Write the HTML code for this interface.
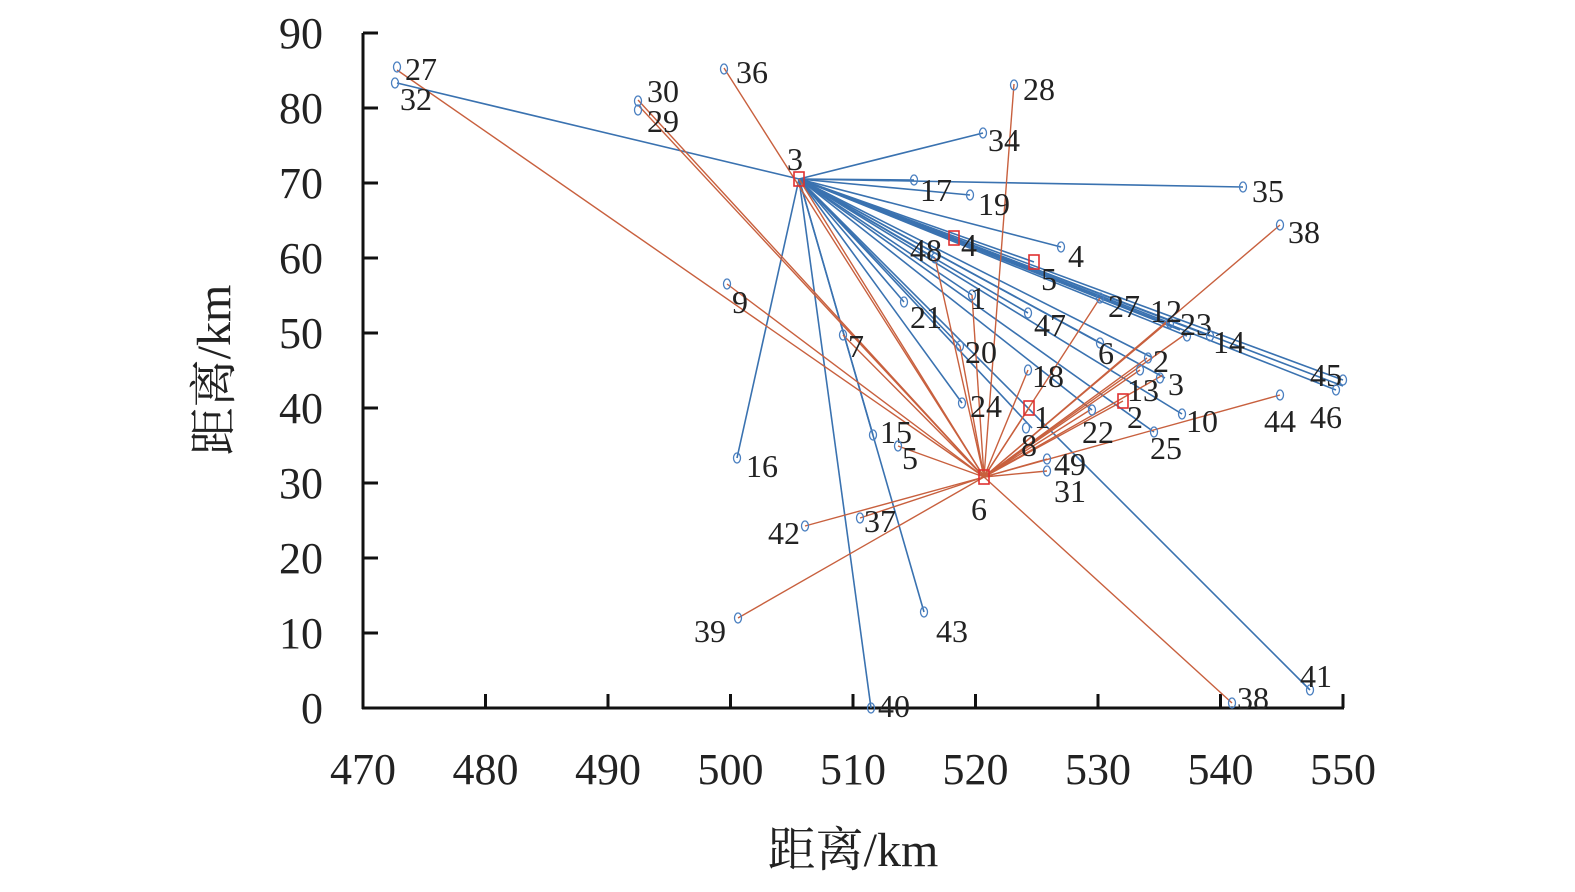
<!DOCTYPE html><html><head><meta charset="utf-8"><style>body{margin:0;background:#fff}svg{display:block}text{font-family:"Liberation Serif","Noto Serif CJK SC",serif;fill:#222}</style></head><body>
<svg id="s" width="1575" height="892" xmlns="http://www.w3.org/2000/svg">
<g stroke="#111" stroke-width="3" fill="none">
<line x1="363" y1="33" x2="363" y2="709"/><line x1="362" y1="708" x2="1344" y2="708"/>
</g>
<g id="ax" font-size="44"></g>
<g id="ln"></g>
<g id="pt"></g>
<text x="853" y="866" font-size="48" text-anchor="middle" style="fill:#222">距离/km</text>
<text transform="translate(230,370) rotate(-90)" font-size="48" text-anchor="middle" style="fill:#222">距离/km</text>
</svg>
<script>
const NS="http://www.w3.org/2000/svg";
function el(p,t,a,txt){const e=document.createElementNS(NS,t);for(const k in a)e.setAttribute(k,a[k]);if(txt!==undefined)e.textContent=txt;document.getElementById(p).appendChild(e);return e;}
for(let i=0;i<=9;i++){const y=708-i*75;el('ax','text',{x:323,y:y+15,'text-anchor':'end'},i*10);if(i>0)el('ax','line',{x1:363,y1:y,x2:378,y2:y,stroke:'#111','stroke-width':3});}
for(let i=0;i<=8;i++){const x=363+i*122.5;el('ax','text',{x:x,y:784,'text-anchor':'middle'},470+i*10);if(i>0)el('ax','line',{x1:x,y1:708,x2:x,y2:694,stroke:'#111','stroke-width':3});}
const H3=[799,179],H6=[984,477];
const blue=[[397,83],[983,133],[1243,187],[914,180],[970,195],[1061,247],[935,258],[904,302],[972,295],[1028,313],[1100,343],[1170,323],[1187,336],[1210,336],[1343,380],[1336,390],[1153,358],[1165,378],[1182,414],[1154,432],[962,403],[960,346],[1092,410],[737,458],[871,708],[924,612],[1310,690],[1032,428],[873,435],[1034,262],[954,238],[1180,330],[1343,386]];
const red=[[397,70],[638,105],[724,68],[1014,84],[727,284],[843,335],[898,446],[805,526],[860,518],[738,618],[1232,703],[1280,225],[1280,395],[1047,459],[1047,471],[1028,370],[1100,298],[1170,320],[1187,333],[1147,358],[1140,370],[1163,375],[1029,408],[1123,401],[960,346],[935,258],[972,295],[799,179],[638,100],[1090,410]];
blue.forEach(p=>el('ln','line',{x1:H3[0],y1:H3[1],x2:p[0],y2:p[1],stroke:'#3a72b0','stroke-width':1.6}));
red.forEach(p=>el('ln','line',{x1:H6[0],y1:H6[1],x2:p[0],y2:p[1],stroke:'#c8603e','stroke-width':1.4}));
const pts=[[397,67,'27',405,68],[395,83,'32',400,98],[638,101,'30',647,90],[638,110,'29',647,120],[724,69,'36',736,71],[1014,85,'28',1023,88],[983,133,'34',988,139],[914,180,'17',920,189],[970,195,'19',978,203],[1243,187,'35',1252,190],[1280,225,'38',1288,231],[1061,247,'4',1068,255],[935,258,'48',910,249],[727,284,'9',732,301],[972,295,'1',970,297],[904,302,'21',910,316],[1028,313,'47',1034,324],[1100,298,'27',1108,305],[1170,323,'12',1150,310],[1187,336,'23',1180,323],[1210,336,'14',1213,341],[843,335,'7',848,345],[960,346,'20',965,351],[1100,343,'6',1098,352],[1148,358,'2',1153,360],[1140,370,'13',1127,389],[1160,378,'3',1168,383],[1028,370,'18',1032,375],[1343,380,'45',1310,374],[1336,390,'46',1310,416],[1280,395,'44',1264,420],[962,403,'24',970,405],[1182,414,'10',1186,420],[1092,410,'22',1082,431],[1154,432,'25',1150,447],[1026,428,'8',1021,444],[873,435,'15',880,431],[737,458,'16',746,465],[898,446,'5',902,457],[1047,459,'49',1054,463],[1047,471,'31',1054,490],[805,526,'42',768,532],[860,518,'37',864,520],[738,618,'39',694,630],[924,612,'43',936,630],[1310,690,'41',1300,675],[871,708,'40',878,705],[1232,703,'38',1237,697]];
pts.forEach(p=>{el('pt','ellipse',{cx:p[0],cy:p[1],rx:3.5,ry:5,fill:'none',stroke:'#4a7fc0','stroke-width':1.3});el('pt','text',{x:p[3],y:p[4]+12,'font-size':32},p[2]);});
const sq=[[799,179,'3',787,158],[954,238,'4',961,244],[1034,262,'5',1041,278],[1029,408,'1',1034,416],[1123,401,'2',1127,416],[984,477,'6',971,508]];
sq.forEach(p=>{el('pt','rect',{x:p[0]-5,y:p[1]-7,width:10,height:14,fill:'none',stroke:'#e03030','stroke-width':1.6});el('pt','text',{x:p[3],y:p[4]+12,'font-size':32},p[2]);});
</script>
</body></html>
